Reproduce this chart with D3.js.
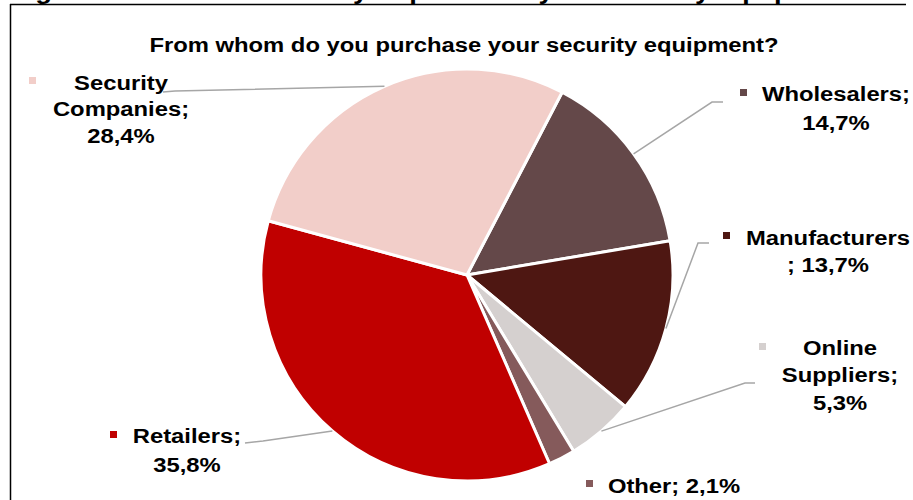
<!DOCTYPE html>
<html>
<head>
<meta charset="utf-8">
<script src="https://cdn.jsdelivr.net/npm/d3@7"></script>
<style>
  html, body { margin: 0; padding: 0; background: #fff; }
  svg { display: block; }
  text { font-family: "Liberation Sans", Arial, sans-serif; font-weight: bold; fill: #000; }
</style>
</head>
<body>
<svg id="chart" width="913" height="500"></svg>
<script>
// ---- data ----
const categories = ["Wholesalers", "Manufacturers", "Online Suppliers", "Other", "Retailers", "Security Companies"];
const values = [14.7, 13.7, 5.3, 2.1, 35.8, 28.4];
const chartTitle = "From whom do you purchase your security equipment?";
const captionText = "Figure 12: From whom do you purchase your security equipment";
// how each data label is broken into lines ({v} = formatted value)
const labelTemplates = [
  ["Wholesalers;", "{v}"],
  ["Manufacturers", "; {v}"],
  ["Online", "Suppliers;", "{v}"],
  ["Other; {v}"],
  ["Retailers;", "{v}"],
  ["Security", "Companies;", "{v}"]
];

// ---- style / layout ----
const colors = ["#644849", "#4E1712", "#D5D0CF", "#855A5B", "#C00000", "#F2CEC9"];
const W = 913, H = 500;
const cx = 467, cy = 275, R = 206;
const startDeg = 27.5;
const fontSize = 20, xStretch = 1.19;
const labelLayout = [
  { x: 836, y: 101, dy: 29,   mx: 740, my: 89,  lead: [[723, 102], [712, 102]] },
  { x: 828, y: 245, dy: 27,   mx: 723, my: 232, lead: [[709, 243], [698, 243]] },
  { x: 840, y: 355, dy: 27.5, mx: 759, my: 343, lead: [[755, 383], [745, 383]] },
  { x: 674, y: 493, dy: 0,    mx: 586, my: 480, lead: null },
  { x: 187, y: 443, dy: 29,   mx: 110, my: 431, lead: [[245, 443], [263, 441]] },
  { x: 121, y: 90,  dy: 26.5, mx: 29,  my: 77,  lead: [[163, 92], [175, 91]] }
];

const fmt = v => d3.format(".1f")(v).replace(".", ",") + "%";

const svg = d3.select("#chart");

// caption above frame (mostly cut off)
svg.append("g")
  .attr("transform", `translate(11,-1.5) scale(${xStretch},1)`)
  .append("text")
  .attr("x", 0).attr("y", 0)
  .style("font-size", "23px")
  .text(captionText);

// frame
svg.append("line").attr("x1", 10).attr("x2", 906).attr("y1", 4.5).attr("y2", 4.5)
  .attr("stroke", "#000").attr("stroke-width", 1.5);
svg.append("line").attr("x1", 10.5).attr("x2", 10.5).attr("y1", 4).attr("y2", H)
  .attr("stroke", "#000").attr("stroke-width", 1.5);

// title
svg.append("g")
  .attr("transform", `translate(464,52) scale(${xStretch},1)`)
  .append("text")
  .attr("text-anchor", "middle")
  .style("font-size", fontSize + "px")
  .text(chartTitle);

// pie
const data = categories.map((c, i) => ({ cat: c, value: values[i], i }));
const start = startDeg * Math.PI / 180;
const pie = d3.pie().value(d => d.value).sort(null)
  .startAngle(start).endAngle(start + 2 * Math.PI);
const arcs = pie(data);
const arc = d3.arc().innerRadius(0).outerRadius(R);
const edge = d3.arc().innerRadius(R).outerRadius(R);

const pg = svg.append("g").attr("transform", `translate(${cx},${cy})`);
pg.selectAll("path.slice").data(arcs).enter().append("path")
  .attr("class", "slice")
  .attr("d", arc)
  .attr("fill", d => colors[d.data.i])
  .attr("stroke", "#fff")
  .attr("stroke-width", 3)
  .attr("stroke-linejoin", "round");

// leader lines
const lineGen = d3.line();
arcs.forEach(a => {
  const L = labelLayout[a.data.i];
  if (!L.lead) return;
  const c = edge.centroid(a);
  const pts = [L.lead[0], L.lead[1], [c[0] + cx, c[1] + cy]];
  svg.append("path")
    .attr("d", lineGen(pts))
    .attr("fill", "none")
    .attr("stroke", "#A6A6A6")
    .attr("stroke-width", 1.5);
});

// labels
arcs.forEach(a => {
  const i = a.data.i;
  const L = labelLayout[i];
  svg.append("rect")
    .attr("x", L.mx).attr("y", L.my).attr("width", 7).attr("height", 7)
    .attr("fill", colors[i]);
  const g = svg.append("g").attr("transform", `translate(${L.x},${L.y}) scale(${xStretch},1)`);
  labelTemplates[i].forEach((t, k) => {
    g.append("text")
      .attr("x", 0).attr("y", k * L.dy)
      .attr("text-anchor", "middle")
      .style("font-size", fontSize + "px")
      .text(t.replace("{v}", fmt(values[i])));
  });
});
</script>
</body>
</html>
